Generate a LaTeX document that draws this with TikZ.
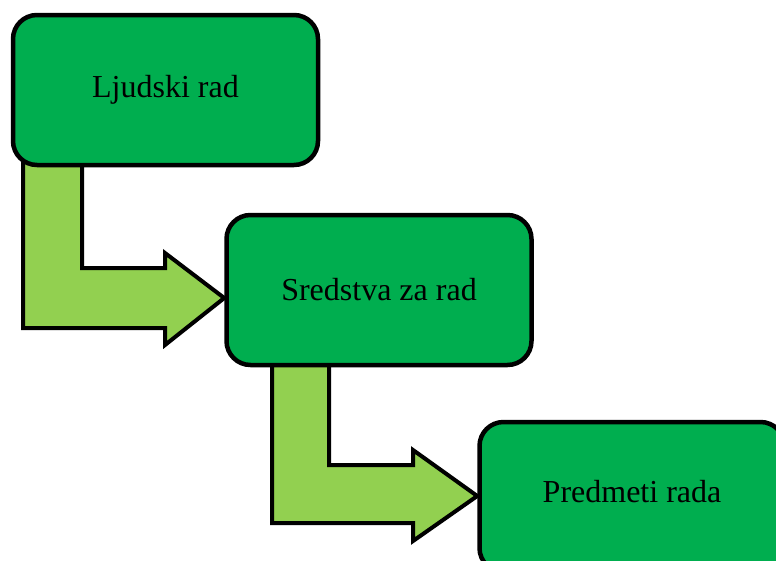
\documentclass[tikz,border=0pt]{standalone}
\usepackage{fontspec}
\setmainfont{Liberation Serif}
\usetikzlibrary{backgrounds}
\definecolor{boxgreen}{HTML}{00AE4F}
\definecolor{arrowgreen}{HTML}{92D050}
\begin{document}
\begin{tikzpicture}[x=1pt,y=-1pt,
  box/.style={draw=black, line width=4.5pt, fill=boxgreen, rounded corners=24pt,
    minimum width=305pt, minimum height=150pt, inner sep=0pt,
    font=\fontsize{32}{38}\selectfont},
  bent/.style={draw=black, line width=4pt, fill=arrowgreen, line join=miter}]
\useasboundingbox (0,0) rectangle (776,560);
\node[box] (a) at (165.5,90) {Ljudski rad};
\node[box] (b) at (379,290) {Sredstva za rad};
\node[box] (c) at (632,497) {\raisebox{12pt}{Predmeti rada}};
\begin{pgfonlayer}{background}
  \draw[bent] (23,160) -- (82,160) -- (82,268) -- (165,268) -- (165,253)
    -- (b.west |- 0,298) -- (165,345) -- (165,328) -- (23,328) -- cycle;
  \draw[bent] (272,360) -- (329,360) -- (329,465) -- (413,465) -- (413,450)
    -- (c.west |- 0,496) -- (413,541) -- (413,523) -- (272,523) -- cycle;
\end{pgfonlayer}
\end{tikzpicture}
\end{document}
